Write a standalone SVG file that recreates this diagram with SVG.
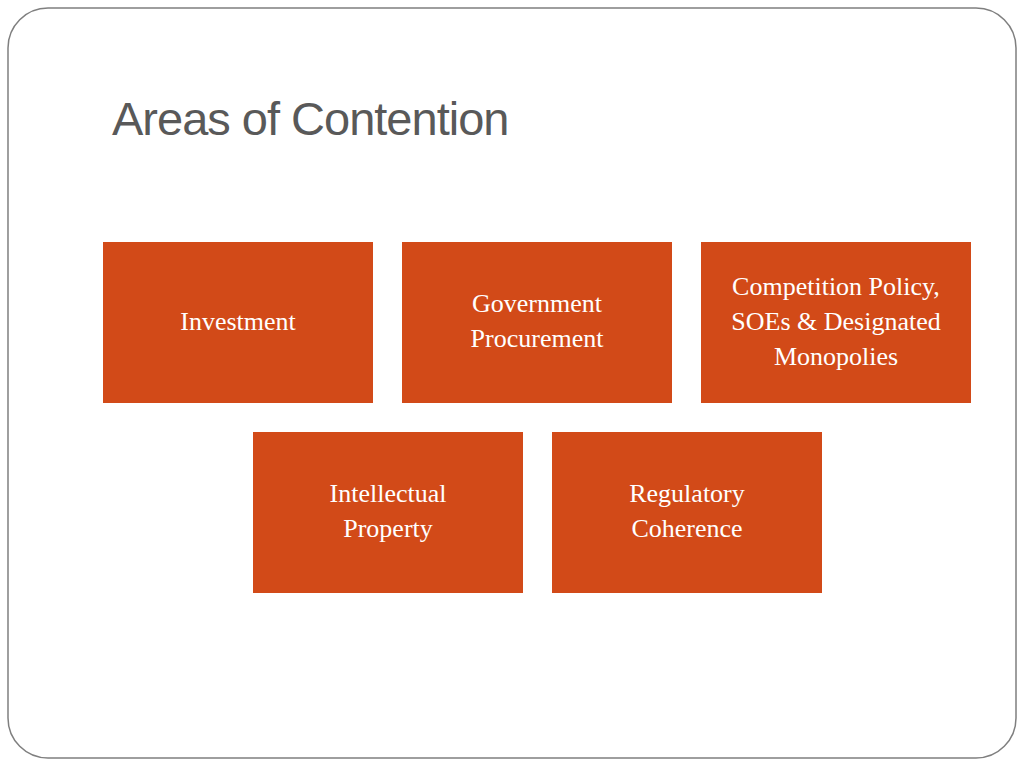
<svg xmlns="http://www.w3.org/2000/svg" width="1024" height="768" viewBox="0 0 1024 768">
<style>
.box{fill:#D24A18;}
.t{font-family:"Liberation Serif",serif;font-size:26px;fill:#fff;text-anchor:middle;}
</style>
<rect width="1024" height="768" fill="#fff"/>
<rect x="8" y="8" width="1008" height="750" rx="40" fill="#fff" stroke="#7f7f7f" stroke-width="1.5"/>
<text x="112" y="135" font-family="Liberation Sans,sans-serif" font-size="47" fill="#595959" letter-spacing="-1">Areas of Contention</text>
<g id="investment"><rect class="box" x="103" y="242" width="270" height="161"/><text class="t" x="238" y="330">Investment</text></g>
<g id="procurement"><rect class="box" x="402" y="242" width="270" height="161"/><text class="t" x="537" y="312">Government</text><text class="t" x="537" y="347">Procurement</text></g>
<g id="competition"><rect class="box" x="701" y="242" width="270" height="161"/><text class="t" x="836" y="295">Competition Policy,</text><text class="t" x="836" y="330">SOEs &amp; Designated</text><text class="t" x="836" y="365">Monopolies</text></g>
<g id="ip"><rect class="box" x="253" y="432" width="270" height="161"/><text class="t" x="388" y="502">Intellectual</text><text class="t" x="388" y="537">Property</text></g>
<g id="regulatory"><rect class="box" x="552" y="432" width="270" height="161"/><text class="t" x="687" y="502">Regulatory</text><text class="t" x="687" y="537">Coherence</text></g>
<g id="connectors"/>
</svg>
